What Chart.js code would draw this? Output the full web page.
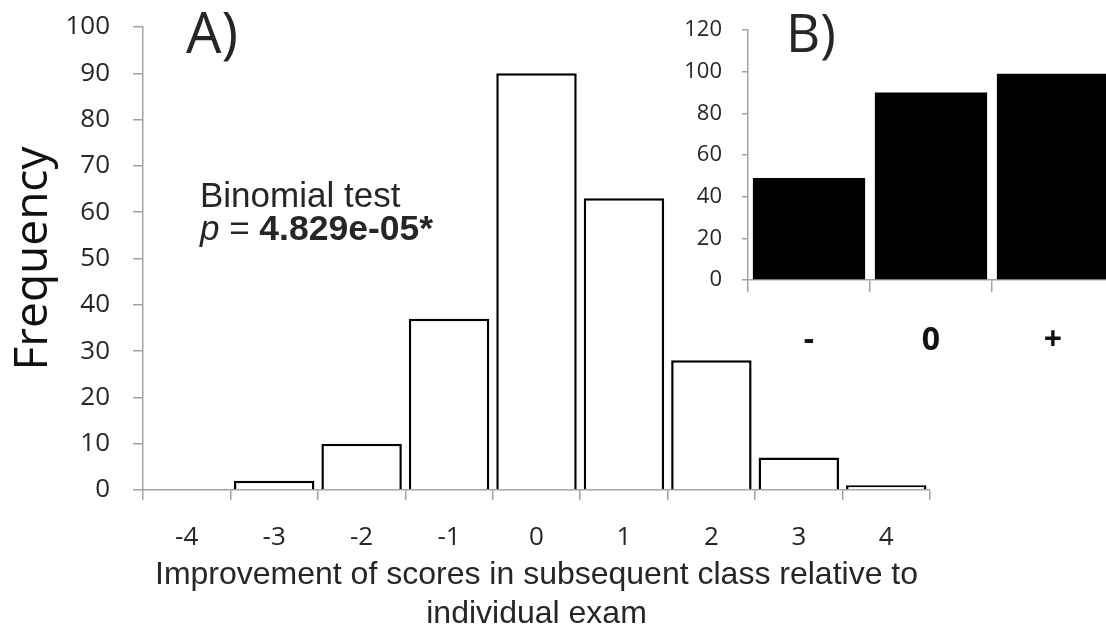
<!DOCTYPE html>
<html>
<head>
<meta charset="utf-8">
<script src="https://cdn.jsdelivr.net/npm/chart.js@4.4.1/dist/chart.umd.min.js"></script>
<style>
  html, body { margin: 0; padding: 0; background: #fff; overflow: hidden; }
  #wrap { position: relative; width: 1106px; height: 634px; }
  #mainChart { position: absolute; left: 0; top: 0; }
  #insetChart { position: absolute; left: 660px; top: 0; }
</style>
</head>
<body>
<div id="wrap">
  <canvas id="mainChart" width="1106" height="634"></canvas>
  <canvas id="insetChart" width="470" height="380"></canvas>
</div>
<script>
// A) histogram of score improvement
const scoreBins = ["-4", "-3", "-2", "-1", "0", "1", "2", "3", "4"];
const binCounts = [0, 2, 10, 37, 90, 63, 28, 7, 1];

// B) same data grouped by sign
const signLabels = ["-", "0", "+"];
const signCounts = [49, 90, 99];

const axisGrey = "#a3a3a3";
const textDark = "#262626";

// draws the panel letter and the test note as canvas text
const panelText = {
  id: "panelText",
  afterDraw(chart, args, opts) {
    const ctx = chart.ctx;
    ctx.save();
    ctx.fillStyle = textDark;
    ctx.textBaseline = "alphabetic";
    ctx.textAlign = "left";
    ctx.font = opts.letterFont;
    ctx.fillText(opts.letter, opts.letterX, opts.letterY);
    if (opts.note) {
      ctx.font = "35px 'Liberation Sans', Arial, sans-serif";
      ctx.fillText("Binomial test", 200, 207);
      let x = 200;
      ctx.font = "italic 35px 'Liberation Sans', Arial, sans-serif";
      ctx.fillText("p", x, 240);
      x += ctx.measureText("p").width;
      ctx.font = "35px 'Liberation Sans', Arial, sans-serif";
      ctx.fillText(" = ", x, 240);
      x += ctx.measureText(" = ").width;
      ctx.font = "bold 35.5px 'Liberation Sans', Arial, sans-serif";
      ctx.fillText("4.829e-05*", x, 240);
    }
    ctx.restore();
  },
};

// keep the y axis from pushing the plot area down for its end labels
function fixYAxis(width) {
  return (s) => {
    s.width = width;
    s.paddingTop = 0;
    s.paddingBottom = 0;
  };
}

const mainChart = new Chart(document.getElementById("mainChart"), {
  type: "bar",
  data: {
    labels: scoreBins,
    datasets: [
      {
        data: binCounts,
        backgroundColor: "#ffffff",
        borderColor: "#000000",
        borderWidth: 2.5,
        barPercentage: 0.92,
        categoryPercentage: 1,
      },
    ],
  },
  options: {
    responsive: false,
    animation: false,
    layout: { padding: { top: 27, right: 176, left: 0, bottom: 0 } },
    plugins: {
      legend: { display: false },
      tooltip: { enabled: false },
      panelText: {
        letter: "A)",
        letterX: 186,
        letterY: 53,
        letterFont: "56px 'Open Sans', sans-serif",
        note: true,
      },
    },
    scales: {
      x: {
        afterFit: (s) => { s.height = 144; },
        grid: {
          drawOnChartArea: false,
          drawTicks: true,
          tickLength: 10,
          color: axisGrey,
          lineWidth: 1.5,
        },
        border: { color: axisGrey, width: 1.5 },
        ticks: {
          color: textDark,
          padding: 22,
          font: { family: "'Open Sans', sans-serif", size: 26 },
        },
        title: {
          display: true,
          text: [
            "Improvement of scores in subsequent class relative to",
            "individual exam",
          ],
          color: textDark,
          padding: { top: 0, bottom: 0 },
          font: { family: "'Liberation Sans', Arial, sans-serif", size: 32, lineHeight: 1.22 },
        },
      },
      y: {
        min: 0,
        max: 100,
        afterFit: fixYAxis(143),
        grid: {
          drawOnChartArea: false,
          drawTicks: true,
          tickLength: 10,
          color: axisGrey,
          lineWidth: 1.5,
        },
        border: { color: axisGrey, width: 1.5 },
        ticks: {
          stepSize: 10,
          color: textDark,
          padding: 23,
          font: { family: "'Open Sans', sans-serif", size: 26 },
        },
        title: {
          display: true,
          text: "Frequency",
          color: "#111",
          padding: { top: 6, bottom: 0 },
          font: { family: "'Open Sans', sans-serif", size: 46 },
        },
      },
    },
  },
  plugins: [panelText],
});

const insetChart = new Chart(document.getElementById("insetChart"), {
  type: "bar",
  data: {
    labels: signLabels,
    datasets: [
      {
        data: signCounts,
        backgroundColor: "#000000",
        borderWidth: 0,
        barPercentage: 0.92,
        categoryPercentage: 1,
      },
    ],
  },
  options: {
    responsive: false,
    animation: false,
    layout: { padding: { top: 30, right: 16, left: 0, bottom: 0 } },
    plugins: {
      legend: { display: false },
      tooltip: { enabled: false },
      panelText: {
        letter: "B)",
        letterX: 126,
        letterY: 52,
        letterFont: "53px 'Open Sans', sans-serif",
        note: false,
      },
    },
    scales: {
      x: {
        afterFit: (s) => { s.height = 100; },
        grid: {
          drawOnChartArea: false,
          drawTicks: true,
          tickLength: 12,
          color: axisGrey,
          lineWidth: 1.5,
        },
        border: { color: axisGrey, width: 1.5 },
        ticks: {
          color: "#111",
          padding: 30,
          font: { family: "'Open Sans', sans-serif", size: 32, weight: "bold" },
        },
      },
      y: {
        min: 0,
        max: 120,
        afterFit: fixYAxis(88),
        grid: {
          drawOnChartArea: false,
          drawTicks: true,
          tickLength: 6,
          color: axisGrey,
          lineWidth: 1.5,
        },
        border: { color: axisGrey, width: 1.5 },
        ticks: {
          stepSize: 20,
          color: textDark,
          padding: 20,
          font: { family: "'Open Sans', sans-serif", size: 22 },
        },
      },
    },
  },
  plugins: [panelText],
});
</script>
</body>
</html>
